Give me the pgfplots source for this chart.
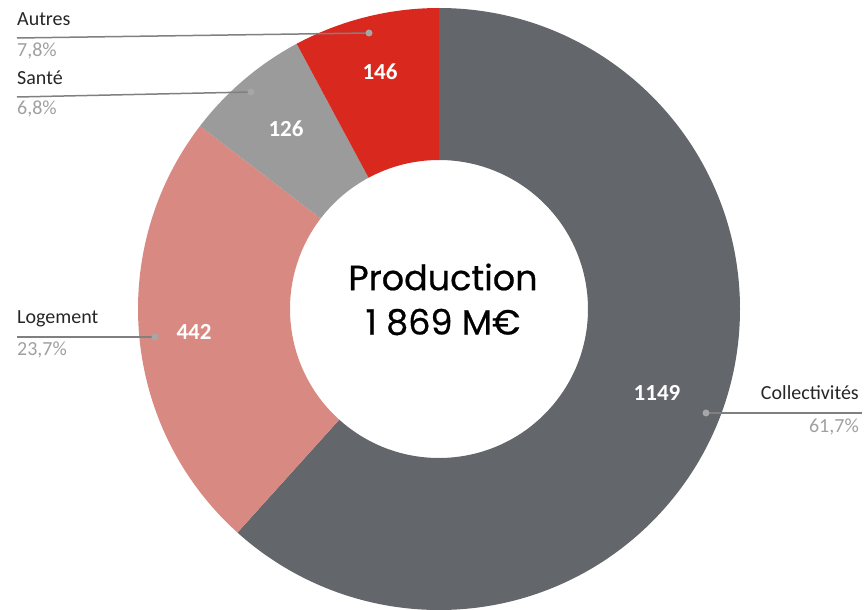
\documentclass[border=0pt]{standalone}
\usepackage{pgfplots}
\pgfplotsset{compat=1.18}
\usepackage{pgfplotstable}
\usepackage{fontspec}
\setmainfont{Carlito}
\newfontfamily\pop[FakeBold=0.6]{Poppins}
\definecolor{cDark}{HTML}{63666A}
\definecolor{cPink}{HTML}{D88A82}
\definecolor{cGray}{HTML}{9B9B9B}
\definecolor{cRed}{HTML}{D9281E}
\definecolor{cLine}{HTML}{808080}
\definecolor{cDot}{HTML}{A6A6A6}
\definecolor{cPct}{HTML}{A0A0A0}
\definecolor{cTxt}{HTML}{262626}
\pgfplotstableread{
name value
Collectivites 1149
Logement 442
Sante 126
Autres 146
}\donutdata
\newcommand\donutslice[3]{%
  \fill[#3] ({\cx+\Ro*cos(#1)},{\cy+\Ro*sin(#1)}) arc[start angle=#1,end angle=#2,radius=\Ro bp]
    -- ({\cx+\Ri*cos(#2)},{\cy+\Ri*sin(#2)}) arc[start angle=#2,end angle=#1,radius=\Ri bp] -- cycle;}
\begin{document}%
\begin{tikzpicture}
\pgfplotstablegetelem{0}{value}\of\donutdata \let\vA\pgfplotsretval
\pgfplotstablegetelem{1}{value}\of\donutdata \let\vB\pgfplotsretval
\pgfplotstablegetelem{2}{value}\of\donutdata \let\vC\pgfplotsretval
\pgfplotstablegetelem{3}{value}\of\donutdata \let\vD\pgfplotsretval
\pgfmathsetmacro\tot{\vA+\vB+\vC+\vD}
\pgfmathsetmacro\aA{90}
\pgfmathsetmacro\aB{\aA-360*(\vA/\tot)}
\pgfmathsetmacro\aC{\aB-360*(\vB/\tot)}
\pgfmathsetmacro\aD{\aC-360*(\vC/\tot)}
\pgfmathsetmacro\aE{\aD-360*(\vD/\tot)}
\def\cx{439}\def\cy{301}\def\Ro{301}\def\Ri{149}
\begin{axis}[x=1bp, y=1bp, xmin=0, xmax=864, ymin=0, ymax=610,
  hide axis, scale only axis, clip=false, anchor=origin, at={(0,0)}]
\donutslice{\aA}{\aB}{cDark}
\donutslice{\aB}{\aC}{cPink}
\donutslice{\aC}{\aD}{cGray}
\donutslice{\aD}{\aE}{cRed}
% leader lines
\draw[cLine, line width=1.5bp] (17,572) -- (369,577);
\draw[cLine, line width=1.5bp] (17,513) -- (251,518);
\draw[cLine, line width=1.5bp] (17,273) -- (155,273);
\draw[cLine, line width=1.5bp] (706,197) -- (862,197);
\fill[cDot] (369,577) circle[radius=3.5bp];
\fill[cDot] (251,518) circle[radius=3.5bp];
\fill[cDot] (155,273) circle[radius=3.5bp];
\fill[cDot] (706,197) circle[radius=3.5bp];
% category labels
\tikzset{lab/.style={inner sep=0pt, font=\fontsize{20bp}{24bp}\selectfont}}
\node[lab, anchor=base west, text=cTxt] at (17,584) {Autres};
\node[lab, anchor=base west, text=cPct] at (17,553) {7,8\%};
\node[lab, anchor=base west, text=cTxt] at (17,525) {Santé};
\node[lab, anchor=base west, text=cPct] at (17,495) {6,8\%};
\node[lab, anchor=base west, text=cTxt] at (17,287) {Logement};
\node[lab, anchor=base west, text=cPct] at (17,255) {23,7\%};
\node[lab, anchor=base east, text=cTxt] at (859,211) {Collectivités};
\node[lab, anchor=base east, text=cPct] at (859,178) {61,7\%};
% values
\tikzset{val/.style={inner sep=0pt, text=white, font=\bfseries\fontsize{23bp}{27bp}\selectfont}}
\node[val] at (380,538) {146};
\node[val] at (286,481) {126};
\node[val] at (194,278) {442};
\node[val] at (657,217) {1149};
% centre
\node[inner sep=0pt, font=\pop\fontsize{35bp}{40bp}\selectfont] at (443,333) {Production};
\node[inner sep=0pt, font=\pop\fontsize{35bp}{40bp}\selectfont] at (443,288) {1 869 M€};
\end{axis}
\pgfresetboundingbox
\useasboundingbox (0,0) rectangle (864bp,610bp);
\end{tikzpicture}%
\end{document}
